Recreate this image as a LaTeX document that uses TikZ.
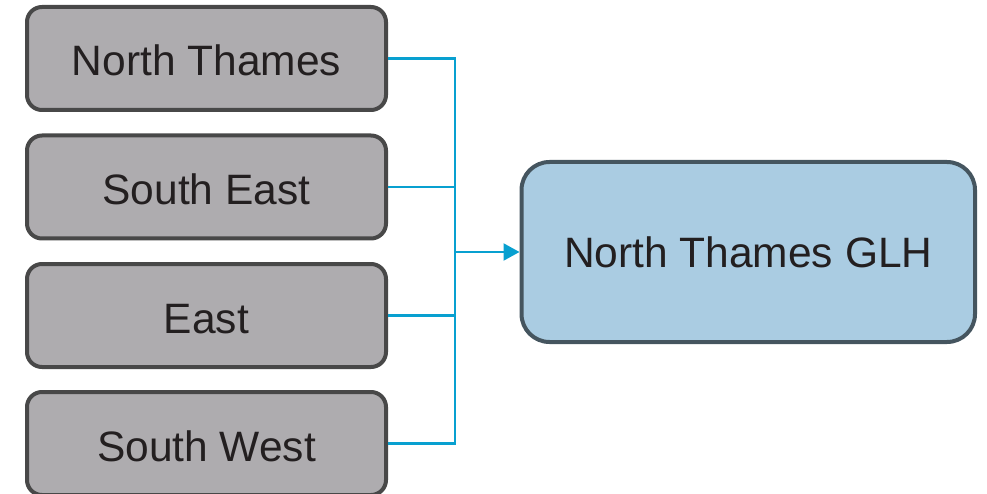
\documentclass[tikz,border=0pt]{standalone}
\usepackage{fontspec}
\setmainfont{Liberation Sans}
\usetikzlibrary{arrows.meta}
\definecolor{boxfill}{RGB}{174,172,175}
\definecolor{boxline}{RGB}{72,72,72}
\definecolor{glhfill}{RGB}{170,204,226}
\definecolor{glhline}{RGB}{69,85,95}
\definecolor{connblue}{RGB}{8,160,208}
\definecolor{txt}{RGB}{35,31,32}
\tikzset{
  region/.style={draw=boxline, fill=boxfill, line width=4pt, rounded corners=15pt,
    minimum width=359pt, minimum height=103pt, inner sep=0pt,
    font=\fontsize{42.5}{46}\selectfont, text=txt, text height=35pt, text depth=0pt},
  glhbox/.style={draw=glhline, fill=glhfill, line width=4pt, rounded corners=28pt,
    minimum width=453.5pt, minimum height=180pt, inner sep=0pt,
    font=\fontsize{42.5}{46}\selectfont, text=txt, text height=32pt, text depth=0pt},
  conn/.style={draw=connblue, line width=2.2pt},
}
\begin{document}
\begin{tikzpicture}[x=1pt,y=-1pt]
\useasboundingbox (0,0) rectangle (987,494);
\node[region] (b1) at (206.5,58.5) {North Thames};
\node[region] (b2) at (206.5,187) {South East};
\node[region] (b3) at (206.5,315.5) {East};
\node[region] (b4) at (206.5,443.5) {South West};
\node[glhbox] (glh) at (748.25,252) {North Thames GLH};
\coordinate (j) at (455,252);
\draw[conn] (b1.east) -| (j);
\draw[conn] (b2.east) -| (j);
\draw[conn] (b3.east) -| (j);
\draw[conn] (b4.east) -| (j);
\draw[conn,-{Triangle[length=16pt,width=17pt]}] (j) -- (glh.west);
\end{tikzpicture}
\end{document}
